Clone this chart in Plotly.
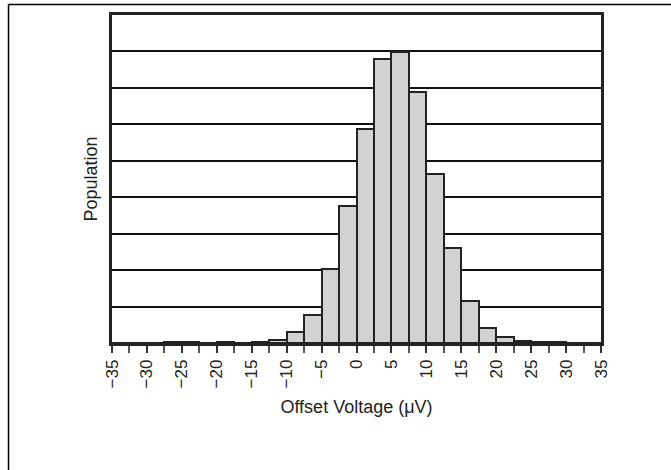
import plotly.graph_objects as go

bin_left = [-35, -32.5, -30, -27.5, -25, -22.5, -20, -17.5, -15, -12.5, -10, -7.5, -5, -2.5,
            0, 2.5, 5, 7.5, 10, 12.5, 15, 17.5, 20, 22.5, 25, 27.5, 30, 32.5]
population = [0, 0, 0, 0.02, 0.02, 0, 0.02, 0, 0.04, 0.09, 0.29, 0.78, 2.04, 3.75,
              5.87, 7.78, 7.99, 6.89, 4.65, 2.60, 1.16, 0.40, 0.16, 0.05, 0.03, 0.03, 0, 0]
tick_vals = [-35, -30, -25, -20, -15, -10, -5, 0, 5, 10, 15, 20, 25, 30, 35]
tick_text = ["\u221235", "\u221230", "\u221225", "\u221220", "\u221215", "\u221210", "\u22125",
             "0", "5", "10", "15", "20", "25", "30", "35"]

bin_width = 2.5
centers = [b + bin_width / 2 for b in bin_left]

fig = go.Figure(go.Bar(
    x=centers, y=population, width=bin_width,
    marker=dict(color="#d1d2d4", line=dict(color="#222222", width=2)),
))

L, R, T, B = 112, 70, 15, 127
W, H = 671, 470
pw, ph = W - L - R, H - T - B

fig.update_layout(
    width=W, height=H,
    margin=dict(l=L, r=R, t=T, b=B),
    plot_bgcolor="white", paper_bgcolor="white",
    showlegend=False, bargap=0,
    font=dict(family="Liberation Sans, Arial, sans-serif", color="#222222"),
    xaxis=dict(
        range=[-35, 35], tickvals=tick_vals, ticktext=tick_text, tickangle=-90,
        ticks="outside", ticklen=7, tickwidth=1.5, tickcolor="#333333",
        minor=dict(tick0=-35, dtick=2.5, ticks="outside", ticklen=7, tickwidth=1.5, tickcolor="#555555"),
        showgrid=False, zeroline=False,
        showline=True, mirror=True, linecolor="#222222", linewidth=2.5,
        tickfont=dict(size=17),
        title=dict(text="Offset Voltage (\u03bcV)", font=dict(size=18), standoff=14),
    ),
    yaxis=dict(
        range=[0, 9], dtick=1, showticklabels=False, ticks="",
        showgrid=True, gridcolor="#111111", gridwidth=1.5, zeroline=False,
        showline=True, mirror=True, linecolor="#222222", linewidth=2.5,
        title=dict(text="Population", font=dict(size=18), standoff=7),
    ),
)

# outer frame (left and top edges visible)
x_left = (8.5 - L) / pw
y_top = (H - B - 4.5) / ph
fig.add_shape(type="line", xref="paper", yref="paper", x0=x_left, x1=1.3, y0=y_top, y1=y_top,
              line=dict(color="black", width=1.5))
fig.add_shape(type="line", xref="paper", yref="paper", x0=x_left, x1=x_left, y0=y_top, y1=-0.5,
              line=dict(color="black", width=1.5))

fig.write_html("out.html", config={"displayModeBar": False},
               post_script="document.body.style.margin='0px';")
